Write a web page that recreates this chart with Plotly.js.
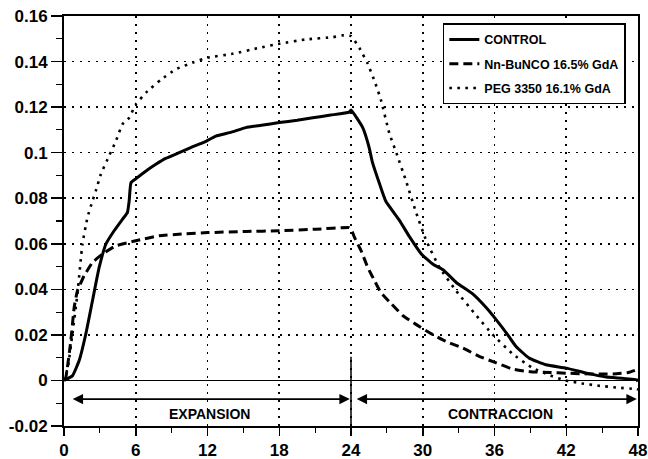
<!DOCTYPE html>
<html>
<head>
<meta charset="utf-8">
<script src="https://cdn.plot.ly/plotly-3.0.1.min.js"></script>
<style>html,body{margin:0;padding:0;background:#fff;}#chart{width:648px;height:459px;}</style>
</head>
<body>
<div id="chart"></div>
<script>
// ---- data ----
var seriesNames = ['CONTROL', 'Nn-BuNCO 16.5% GdA', 'PEG 3350 16.1% GdA'];

var controlX = [0, 0.7, 1.26, 1.82, 2.38, 2.94, 3.5, 4.19, 4.89, 5.3, 5.45, 5.6, 6, 7, 7.68, 8.5, 9.63, 10.5, 11.87, 12.7, 14, 15.2, 16.5, 18, 19.5, 20.8, 22.3, 23.85, 24, 24.98, 25.5, 25.8, 26.4, 26.9, 28.05, 28.9, 29.9, 30.85, 31.7, 32.8, 34.2, 35.3, 36.15, 37, 37.8, 38.9, 40.3, 42, 43.7, 45.35, 47.9, 48];
var controlY = [0, 0.002, 0.0086, 0.0203, 0.035, 0.0496, 0.0598, 0.0657, 0.0708, 0.0737, 0.0788, 0.0868, 0.0885, 0.0925, 0.0949, 0.0975, 0.1, 0.102, 0.105, 0.1073, 0.109, 0.111, 0.112, 0.1132, 0.1142, 0.1153, 0.1165, 0.1178, 0.1187, 0.111, 0.1026, 0.0956, 0.0861, 0.0788, 0.0703, 0.063, 0.0554, 0.051, 0.0486, 0.043, 0.0379, 0.032, 0.0266, 0.0208, 0.0149, 0.0098, 0.0069, 0.0054, 0.0032, 0.0015, 0.0003, -0.0005];

var bunX = [0, 0.15, 0.57, 0.85, 1.12, 1.68, 2.38, 3.2, 4.33, 6.0, 7.96, 10, 12, 15.2, 18, 21.07, 23.86, 24, 24.3, 24.85, 25.4, 25.98, 26.5, 27.4, 28.35, 29.5, 30.6, 31.97, 33.36, 34.76, 36.15, 37.5, 39, 40.6, 42, 43.4, 44.8, 46.2, 47.2, 47.9];
var bunY = [0, 0.0013, 0.0174, 0.032, 0.0393, 0.0459, 0.0518, 0.0554, 0.0591, 0.0613, 0.0635, 0.0643, 0.0649, 0.0654, 0.0657, 0.0664, 0.0671, 0.0666, 0.0627, 0.0569, 0.0496, 0.0437, 0.0386, 0.0335, 0.0284, 0.0244, 0.0208, 0.0171, 0.0142, 0.0105, 0.0077, 0.005, 0.0038, 0.0035, 0.0032, 0.0029, 0.0028, 0.0029, 0.0035, 0.0047];

var pegX = [0, 0.33, 0.7, 1.12, 1.54, 1.96, 2.38, 2.66, 3.08, 3.77, 4.33, 4.89, 5.45, 6.0, 6.98, 8.1, 9.35, 10.75, 12.0, 14.1, 16.3, 18, 20.2, 22.5, 23.3, 24, 24.7, 25.4, 26, 26.5, 27.2, 27.8, 28.6, 29.4, 30.3, 31.4, 32.8, 34.4, 35.8, 37.5, 39.1, 40.5, 41.9, 43.3, 44.7, 46.2, 47.8, 48];
var pegY = [0, 0.006, 0.0203, 0.0379, 0.0598, 0.0715, 0.0788, 0.0832, 0.0905, 0.0986, 0.105, 0.1125, 0.1153, 0.1212, 0.127, 0.132, 0.1366, 0.1395, 0.1417, 0.1434, 0.146, 0.1478, 0.1497, 0.1507, 0.1515, 0.1512, 0.146, 0.139, 0.131, 0.1232, 0.1086, 0.0998, 0.0876, 0.0744, 0.0613, 0.0496, 0.0393, 0.029, 0.0204, 0.0117, 0.0057, 0.0025, 0, -0.0013, -0.0023, -0.0031, -0.0038, -0.004];

var yTickVals = [-0.02, 0, 0.02, 0.04, 0.06, 0.08, 0.1, 0.12, 0.14, 0.16];
var yTickText = ['-0.02', '0', '0.02', '0.04', '0.06', '0.08', '0.1', '0.12', '0.14', '0.16'];
var xTickVals = [0, 6, 12, 18, 24, 30, 36, 42, 48];
var xTickText = ['0', '6', '12', '18', '24', '30', '36', '42', '48'];

var phaseLabels = ['EXPANSION', 'CONTRACCION'];
var phaseStart = [0, 24];
var phaseEnd = [24, 48];
var phaseLabelX = [12.2, 36.5];

// ---- chart ----
var FONT = '"Liberation Sans", Arial, Helvetica, sans-serif';
function b(s) { return '<b>' + s + '</b>'; }

var traces = [
  {x: controlX, y: controlY, name: b(seriesNames[0]), mode: 'lines', legendgroup: 'a',
   line: {color: '#000', width: 3, dash: 'solid', shape: 'spline', smoothing: 0.4}},
  {x: bunX, y: bunY, name: b(seriesNames[1]), mode: 'lines', legendgroup: 'b',
   line: {color: '#000', width: 3, dash: '9px,5px', shape: 'spline', smoothing: 0.4}},
  {x: pegX, y: pegY, name: b(seriesNames[2]), mode: 'lines', legendgroup: 'c',
   line: {color: '#000', width: 2.6, dash: '2.6px,5.4px', shape: 'spline', smoothing: 0.4}}
];

var annotations = [];
for (var i = 0; i < phaseLabels.length; i++) {
  annotations.push({
    x: phaseEnd[i] - 0.1, y: -0.0082, ax: phaseStart[i] + (i === 0 ? 0.6 : 0.35), ay: -0.0082,
    xref: 'x', yref: 'y', axref: 'x', ayref: 'y',
    text: '', showarrow: true, arrowside: 'end+start',
    arrowhead: 2, startarrowhead: 2, arrowsize: 1.3, startarrowsize: 1.3,
    arrowwidth: 1.6, arrowcolor: '#000'
  });
  annotations.push({
    x: phaseLabelX[i], y: -0.0146, xref: 'x', yref: 'y', showarrow: false,
    text: b(phaseLabels[i]), font: {family: FONT, size: 14, color: '#000'}
  });
}

var layout = {
  width: 648, height: 459,
  margin: {l: 64, r: 10, t: 16, b: 33, pad: 0},
  paper_bgcolor: '#fff', plot_bgcolor: '#fff',
  font: {family: FONT, color: '#000'},
  showlegend: true,
  legend: {
    x: 0.66, y: 0.982, xanchor: 'left', yanchor: 'top',
    bgcolor: '#fff', bordercolor: '#000', borderwidth: 1.5,
    font: {family: FONT, size: 12.5, color: '#000'},
    traceorder: 'grouped', tracegroupgap: 5, itemwidth: 30
  },
  xaxis: {
    range: [0, 48], tickvals: xTickVals, ticktext: xTickText.map(b),
    ticks: 'outside', ticklen: 8, tickwidth: 1.5, tickcolor: '#000',
    minor: {dtick: 3, tick0: 0, ticks: 'outside', ticklen: 5, tickwidth: 1.2, tickcolor: '#000', showgrid: false},
    showgrid: true, gridcolor: '#000', gridwidth: 1.6, griddash: '2px,6px',
    showline: true, linecolor: '#000', linewidth: 2, mirror: true,
    zeroline: false, layer: 'below traces',
    tickfont: {family: FONT, size: 17, color: '#000'}
  },
  yaxis: {
    range: [-0.02, 0.16], tickvals: yTickVals, ticktext: yTickText.map(b),
    ticks: 'outside', ticklen: 11, tickwidth: 1.5, tickcolor: '#000',
    minor: {dtick: 0.01, tick0: 0, ticks: 'outside', ticklen: 6, tickwidth: 1.2, tickcolor: '#000', showgrid: false},
    showgrid: true, gridcolor: '#000', gridwidth: 1.6, griddash: '2px,6px',
    showline: true, linecolor: '#000', linewidth: 2, mirror: true,
    zeroline: true, zerolinecolor: '#000', zerolinewidth: 1.8,
    tickfont: {family: FONT, size: 17, color: '#000'}
  },
  shapes: [
    {type: 'line', xref: 'x', yref: 'y', x0: phaseEnd[0], x1: phaseEnd[0], y0: 0.0104, y1: -0.02,
     line: {color: '#000', width: 1.5}}
  ],
  annotations: annotations
};

Plotly.newPlot('chart', traces, layout, {displayModeBar: false, staticPlot: true});
</script>
</body>
</html>
